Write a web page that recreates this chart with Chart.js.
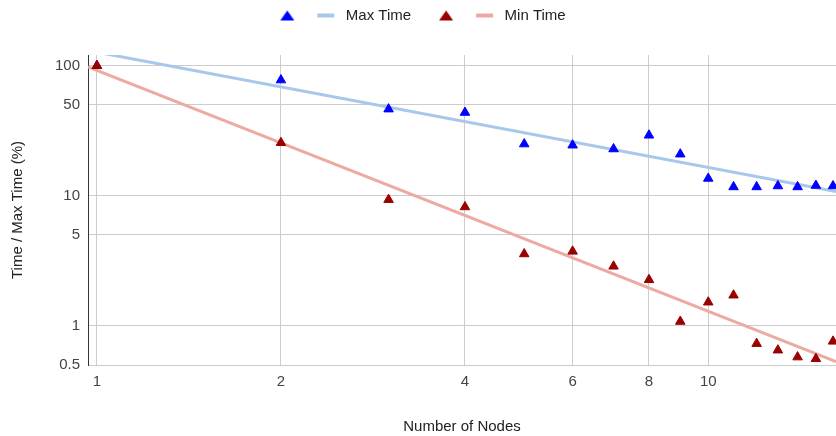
<!DOCTYPE html>
<html>
<head>
<meta charset="utf-8">
<script src="https://cdn.jsdelivr.net/npm/chart.js@4/dist/chart.umd.min.js"></script>
<style>
  html, body { margin: 0; padding: 0; background: #fff; }
  #wrap { width: 836px; height: 436px; }
</style>
</head>
<body>
<div id="wrap"><canvas id="chart"></canvas></div>
<script>
// Data
const nodes = [1, 2, 3, 4, 5, 6, 7, 8, 9, 10, 11, 12, 13, 14, 15, 16];
const maxTime = [100, 77.6, 46.4, 43.7, 25, 24.5, 22.9, 29.2, 20.9, 13.6, 11.7, 11.7, 11.9, 11.7, 12.0, 11.9];
const minTime = [100, 25.6, 9.34, 8.21, 3.57, 3.74, 2.87, 2.26, 1.08, 1.52, 1.72, 0.73, 0.65, 0.575, 0.558, 0.76];

// Power trend lines (end values read at the plot edges)
const xMin = 0.967;
const xMax = 16.18;
const maxTrend = [131, 10.8];
const minTrend = [98, 0.53];

const xTicks = [1, 2, 4, 6, 8, 10];
const yTicks = [0.5, 1, 5, 10, 50, 100];

const FONT = "'Liberation Sans', Arial, sans-serif";
const BLUE = '#0000ff';
const RED = '#990000';
const BLUE_TREND = '#a9c7ea';
const RED_TREND = '#ecaaa2';
const SWATCH_W = 68;

// legend swatch: triangle + short line
function swatch(triColor, lineColor) {
  const c = document.createElement('canvas');
  const m = SWATCH_W - 58;
  c.width = SWATCH_W;
  c.height = 14;
  const g = c.getContext('2d');
  g.fillStyle = triColor;
  g.beginPath();
  g.moveTo(m + 7, 2);
  g.lineTo(m + 14, 12);
  g.lineTo(m, 12);
  g.closePath();
  g.fill();
  g.fillStyle = lineColor;
  g.fillRect(m + 37, 5, 17, 4);
  return c;
}

const maxSwatch = swatch(BLUE, BLUE_TREND);
const minSwatch = swatch(RED, RED_TREND);

function pts(xs, ys) {
  return xs.map((x, i) => ({ x: x, y: ys[i] }));
}

new Chart(document.getElementById('chart'), {
  type: 'scatter',
  data: {
    datasets: [
      {
        label: 'Max Time',
        data: pts(nodes, maxTime),
        pointStyle: 'triangle',
        pointRadius: 5.5,
        pointBorderWidth: 1,
        backgroundColor: BLUE,
        borderColor: BLUE,
        order: 1
      },
      {
        label: 'Max Trend',
        type: 'line',
        data: pts([xMin, xMax], maxTrend),
        borderColor: BLUE_TREND,
        borderWidth: 3,
        pointRadius: 0,
        order: 2
      },
      {
        label: 'Min Time',
        data: pts(nodes, minTime),
        pointStyle: 'triangle',
        pointRadius: 5.5,
        pointBorderWidth: 1,
        backgroundColor: RED,
        borderColor: RED,
        order: 0
      },
      {
        label: 'Min Trend',
        type: 'line',
        data: pts([xMin, xMax], minTrend),
        borderColor: RED_TREND,
        borderWidth: 3,
        pointRadius: 0,
        order: 2
      }
    ]
  },
  options: {
    responsive: true,
    maintainAspectRatio: false,
    animation: false,
    layout: { autoPadding: false, padding: { top: -10, left: 0, right: 0, bottom: 0 } },
    plugins: {
      legend: {
        display: true,
        position: 'top',
        labels: {
          usePointStyle: true,
          pointStyleWidth: SWATCH_W,
          padding: 18,
          font: { family: FONT, size: 15 },
          color: '#222',
          generateLabels: function() {
            return [
              { text: 'Max Time', pointStyle: maxSwatch, fillStyle: BLUE, strokeStyle: BLUE, lineWidth: 0, fontColor: '#222', datasetIndex: 0, hidden: false },
              { text: 'Min Time', pointStyle: minSwatch, fillStyle: RED, strokeStyle: RED, lineWidth: 0, fontColor: '#222', datasetIndex: 2, hidden: false }
            ];
          }
        },
        onClick: null
      },
      // empty title used as a spacer between legend and plot
      title: {
        display: true,
        text: ' ',
        weight: 500,
        font: { size: 10, lineHeight: 1.2 },
        padding: { top: 10, bottom: 0 }
      },
      tooltip: { enabled: false }
    },
    scales: {
      x: {
        type: 'logarithmic',
        min: xMin,
        max: xMax,
        afterBuildTicks: function(scale) {
          scale.ticks = xTicks.map(v => ({ value: v }));
        },
        afterFit: function(scale) {
          scale.height = 71;
          scale.paddingLeft = 0;
          scale.paddingRight = 0;
        },
        ticks: {
          autoSkip: false,
          maxRotation: 0,
          padding: 8,
          color: '#444',
          font: { family: FONT, size: 15 },
          callback: v => String(v)
        },
        grid: { color: '#cccccc', drawTicks: false },
        border: { color: '#cccccc' },
        title: {
          display: true,
          text: 'Number of Nodes',
          color: '#222',
          font: { family: FONT, size: 15 },
          padding: { top: 0, bottom: 0 }
        }
      },
      y: {
        type: 'logarithmic',
        min: 0.5,
        max: 121,
        afterBuildTicks: function(scale) {
          scale.ticks = yTicks.map(v => ({ value: v }));
        },
        afterFit: function(scale) { scale.width = 88; },
        ticks: {
          autoSkip: false,
          padding: 8,
          color: '#444',
          font: { family: FONT, size: 15 },
          callback: v => String(v)
        },
        grid: { color: '#cccccc', drawTicks: false },
        border: { color: '#333333', width: 1 },
        title: {
          display: true,
          text: 'Time / Max Time (%)',
          color: '#222',
          font: { family: FONT, size: 15 },
          padding: { top: 9, bottom: 0 }
        }
      }
    }
  }
});
</script>
</body>
</html>
